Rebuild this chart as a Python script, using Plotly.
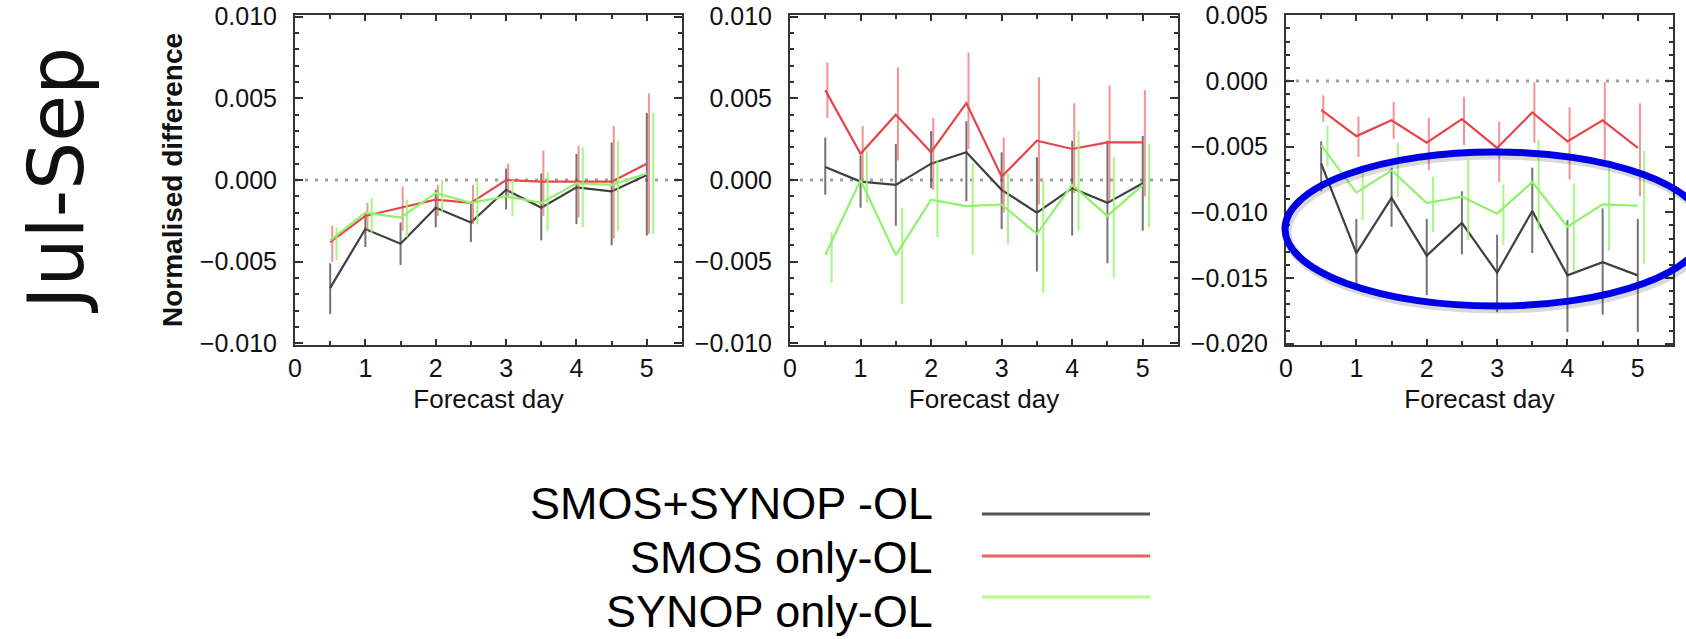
import plotly.graph_objects as go

# ---------------- data ----------------
days = [0.5, 1.0, 1.5, 2.0, 2.5, 3.0, 3.5, 4.0, 4.5, 5.0]
x_ticks = [0, 1, 2, 3, 4, 5]

series_names = ["SMOS+SYNOP -OL", "SMOS only-OL", "SYNOP only-OL"]

# Panel 1
p1_both = [-0.0066, -0.0030, -0.0039, -0.0017, -0.0026, -0.0006, -0.0017, -0.00045, -0.0007, 0.0003]
p1_both_hi = [-0.0051, -0.0020, -0.0026, -0.0006, -0.0014, 0.0007, 0.0004, 0.0016, 0.0023, 0.0041]
p1_both_lo = [-0.0082, -0.0041, -0.0052, -0.0029, -0.0038, -0.0018, -0.0037, -0.0027, -0.0040, -0.0034]
p1_smos = [-0.0038, -0.0022, -0.0017, -0.0012, -0.0014, 0.0000, -0.0001, -0.0001, -0.0001, 0.0010]
p1_smos_hi = [-0.0028, -0.0014, -0.0004, -0.0003, -0.0003, 0.0010, 0.0018, 0.0021, 0.0033, 0.0053]
p1_smos_lo = [-0.0050, -0.0031, -0.0031, -0.0022, -0.0027, -0.0010, -0.0022, -0.0023, -0.0036, -0.0033]
p1_synop = [-0.0037, -0.0020, -0.0023, -0.0008, -0.0014, -0.0010, -0.0014, -0.0002, -0.0003, 0.0004]
p1_synop_hi = [-0.0029, -0.0011, -0.0012, 0.0000, 0.0000, 0.0000, 0.0005, 0.0020, 0.0024, 0.0041]
p1_synop_lo = [-0.0049, -0.0033, -0.0035, -0.0020, -0.0027, -0.0022, -0.0031, -0.0029, -0.0031, -0.0033]

# Panel 2
p2_both = [0.0008, -0.0001, -0.0003, 0.0010, 0.0017, -0.0006, -0.0020, -0.0005, -0.0014, -0.0002]
p2_both_hi = [0.0026, 0.0015, 0.0022, 0.0030, 0.0036, 0.0017, 0.0014, 0.0024, 0.0024, 0.0027]
p2_both_lo = [-0.0009, -0.0017, -0.0028, -0.0005, -0.0013, -0.0030, -0.0056, -0.0034, -0.0051, -0.0031]
p2_smos = [0.0055, 0.0016, 0.0040, 0.0017, 0.0047, 0.0002, 0.0024, 0.0019, 0.0023, 0.0023]
p2_smos_hi = [0.0072, 0.0033, 0.0069, 0.0038, 0.0078, 0.0026, 0.0063, 0.0047, 0.0058, 0.0055]
p2_smos_lo = [0.0038, -0.0001, 0.0012, -0.0006, 0.0019, -0.0020, -0.0015, -0.0008, -0.0013, -0.0010]
p2_synop = [-0.0046, 0.0000, -0.0046, -0.0012, -0.0016, -0.0015, -0.0033, -0.0003, -0.0022, -0.0003]
p2_synop_hi = [-0.0032, 0.0018, -0.0017, 0.0012, 0.0010, 0.0004, 0.0000, 0.0030, 0.0014, 0.0022]
p2_synop_lo = [-0.0063, -0.0014, -0.0076, -0.0035, -0.0046, -0.0039, -0.0069, -0.0031, -0.0060, -0.0029]

# Panel 3
p3_both = [-0.0063, -0.0131, -0.0089, -0.0133, -0.0108, -0.0146, -0.0099, -0.0148, -0.0138, -0.0148]
p3_both_hi = [-0.0046, -0.0105, -0.0066, -0.0105, -0.0084, -0.0117, -0.0066, -0.0106, -0.0097, -0.0105]
p3_both_lo = [-0.0084, -0.0155, -0.0111, -0.0163, -0.0132, -0.0176, -0.0131, -0.0191, -0.0178, -0.0191]
p3_smos = [-0.0022, -0.0042, -0.0030, -0.0047, -0.0029, -0.0051, -0.0024, -0.0046, -0.0030, -0.0051]
p3_smos_hi = [-0.0011, -0.0027, -0.0016, -0.0028, -0.0012, -0.0031, -0.0001, -0.0020, -0.0001, -0.0017]
p3_smos_lo = [-0.0031, -0.0058, -0.0044, -0.0068, -0.0049, -0.0077, -0.0047, -0.0075, -0.0060, -0.0088]
p3_synop = [-0.0049, -0.0085, -0.0068, -0.0093, -0.0088, -0.0101, -0.0077, -0.0111, -0.0094, -0.0095]
p3_synop_hi = [-0.0034, -0.0065, -0.0047, -0.0073, -0.0060, -0.0079, -0.0045, -0.0078, -0.0060, -0.0053]
p3_synop_lo = [-0.0065, -0.0106, -0.0088, -0.0115, -0.0121, -0.0125, -0.0113, -0.0145, -0.0129, -0.0139]

y_ranges = [[-0.0101, 0.0101], [-0.0101, 0.0101], [-0.0201, 0.00502]]

panels = [
    [(p1_both, p1_both_lo, p1_both_hi), (p1_smos, p1_smos_lo, p1_smos_hi), (p1_synop, p1_synop_lo, p1_synop_hi)],
    [(p2_both, p2_both_lo, p2_both_hi), (p2_smos, p2_smos_lo, p2_smos_hi), (p2_synop, p2_synop_lo, p2_synop_hi)],
    [(p3_both, p3_both_lo, p3_both_hi), (p3_smos, p3_smos_lo, p3_smos_hi), (p3_synop, p3_synop_lo, p3_synop_hi)],
]

# ---------------- styling ----------------
W, H = 1686, 639
line_colors = ["#404040", "#e6464a", "#90f26a"]
bar_colors = ["rgba(70,70,70,0.75)", "rgba(235,90,90,0.65)", "rgba(150,245,110,0.85)"]
legend_colors = ["#555555", "#e86060", "#b0ff80"]
bar_offsets = [0.0, 0.03, 0.09]

x_domains = [[295 / W, 682 / W], [790 / W, 1178 / W], [1286 / W, 1673 / W]]
y_domain = [1 - 345 / H, 1 - 15 / H]

FONT = "Liberation Sans, Arial, Helvetica, sans-serif"
TXT = "#111111"

fig = go.Figure()

for pi, series in enumerate(panels):
    xa = "x" if pi == 0 else f"x{pi + 1}"
    ya = "y" if pi == 0 else f"y{pi + 1}"
    for si, (vals, lo, hi) in enumerate(series):
        ex, ey = [], []
        for d, l, h in zip(days, lo, hi):
            ex += [d + bar_offsets[si], d + bar_offsets[si], None]
            ey += [l, h, None]
        fig.add_trace(go.Scatter(x=ex, y=ey, mode="lines", xaxis=xa, yaxis=ya,
                                 line=dict(color=bar_colors[si], width=2),
                                 showlegend=False, hoverinfo="skip"))
        fig.add_trace(go.Scatter(x=days, y=vals, mode="lines", xaxis=xa, yaxis=ya,
                                 name=series_names[si],
                                 line=dict(color=line_colors[si], width=2.2),
                                 showlegend=False))

layout = dict(
    width=W, height=H,
    margin=dict(l=0, r=0, t=0, b=0, autoexpand=False),
    paper_bgcolor="white", plot_bgcolor="white",
    font=dict(family=FONT, color=TXT),
    showlegend=False,
)

for pi in range(3):
    xk = "xaxis" if pi == 0 else f"xaxis{pi + 1}"
    yk = "yaxis" if pi == 0 else f"yaxis{pi + 1}"
    ya = "y" if pi == 0 else f"y{pi + 1}"
    xa = "x" if pi == 0 else f"x{pi + 1}"
    layout[xk] = dict(
        domain=x_domains[pi], anchor=ya, range=[0, 5.5], automargin=False,
        tickmode="array", tickvals=x_ticks, ticktext=[str(t) for t in x_ticks],
        ticks="inside", ticklen=6, tickwidth=1.5, tickcolor="#333",
        minor=dict(ticks="inside", ticklen=4, dtick=0.5, tick0=0, tickcolor="#333", tickwidth=1.5),
        showline=True, linewidth=2, linecolor="#333", mirror="ticks",
        showgrid=False, zeroline=False,
        tickfont=dict(size=25, family=FONT, color=TXT),
        ticklabelstandoff=0,
        title=dict(text="Forecast day", font=dict(size=26, family=FONT, color=TXT), standoff=9),
    )
    layout[yk] = dict(
        domain=y_domain, anchor=xa, range=y_ranges[pi], automargin=False,
        dtick=0.005, tick0=0, tickformat=".3f",
        ticks="inside", ticklen=8, tickwidth=1.5, tickcolor="#333",
        minor=dict(ticks="inside", ticklen=4, dtick=0.001, tick0=0, tickcolor="#333", tickwidth=1.5),
        showline=True, linewidth=2, linecolor="#333", mirror="ticks",
        showgrid=False, zeroline=False,
        tickfont=dict(size=25, family=FONT, color=TXT),
        ticklabelstandoff=11,
    )
layout["yaxis"]["title"] = dict(text="<b>Normalised difference</b>",
                                font=dict(size=28, family=FONT, color=TXT), standoff=9)

shapes = []
for pi in range(3):
    xa = "x" if pi == 0 else f"x{pi + 1}"
    ya = "y" if pi == 0 else f"y{pi + 1}"
    shapes.append(dict(type="line", xref=f"{xa} domain", yref=ya, x0=0, x1=1, y0=0, y1=0,
                       line=dict(color="#a0a0a0", width=3, dash="3px,7px"), layer="below"))

# highlight ellipse on the third panel (with soft shadow)
cx, cy, rx, ry = 1495, 229, 210, 77
shapes.append(dict(type="circle", xref="paper", yref="paper",
                   x0=(cx - rx + 2) / W, x1=(cx + rx + 2) / W,
                   y0=1 - (cy + ry + 3) / H, y1=1 - (cy - ry + 3) / H,
                   line=dict(color="rgba(0,0,0,0.15)", width=9)))
shapes.append(dict(type="circle", xref="paper", yref="paper",
                   x0=(cx - rx) / W, x1=(cx + rx) / W,
                   y0=1 - (cy + ry) / H, y1=1 - (cy - ry) / H,
                   line=dict(color="#0000e6", width=7)))

# custom legend: text on the left, line sample on the right
legend_text_y = [503, 557, 611]
legend_line_y = [514, 556, 597]
annotations = []
for i, name in enumerate(series_names):
    annotations.append(dict(text=name, xref="paper", yref="paper", x=935 / W, y=1 - legend_text_y[i] / H,
                            xanchor="right", yanchor="middle", showarrow=False,
                            font=dict(size=45, family=FONT, color="#000")))
    shapes.append(dict(type="line", xref="paper", yref="paper", x0=982 / W, x1=1150 / W,
                       y0=1 - legend_line_y[i] / H, y1=1 - legend_line_y[i] / H,
                       line=dict(color=legend_colors[i], width=3)))

annotations.append(dict(text="Jul-Sep", xref="paper", yref="paper", x=56 / W, y=1 - 180 / H,
                        xanchor="center", yanchor="middle", textangle=-90, showarrow=False,
                        font=dict(size=76, family="DejaVu Sans, Open Sans, sans-serif",
                                  color="#111")))

layout["shapes"] = shapes
layout["annotations"] = annotations
fig.update_layout(**layout)

fig.write_html("out.html", config={"displayModeBar": False},
               post_script="document.body.style.margin='0';document.body.style.overflow='hidden';")
